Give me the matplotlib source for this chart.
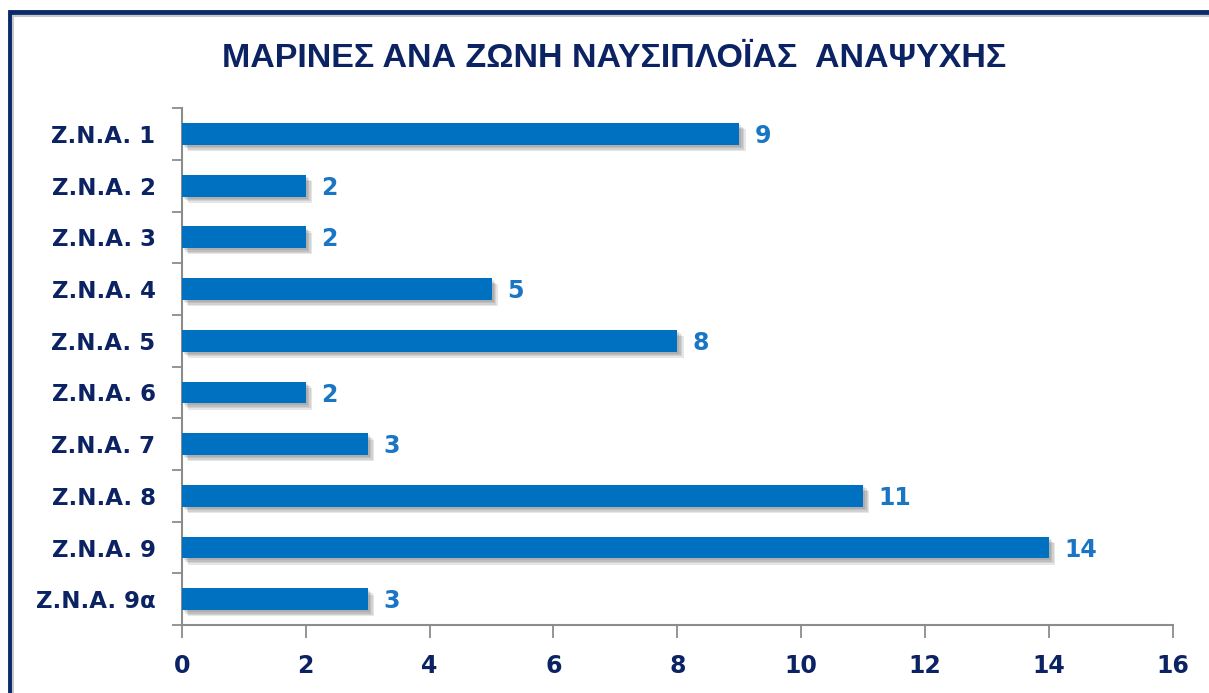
import matplotlib.pyplot as plt
import matplotlib.patheffects as pe
from matplotlib.patches import Rectangle

zones = ['Z.N.A. 1', 'Z.N.A. 2', 'Z.N.A. 3', 'Z.N.A. 4', 'Z.N.A. 5',
         'Z.N.A. 6', 'Z.N.A. 7', 'Z.N.A. 8', 'Z.N.A. 9', 'Z.N.A. 9α']
marinas = [9, 2, 2, 5, 8, 2, 3, 11, 14, 3]
x_ticks = [0, 2, 4, 6, 8, 10, 12, 14, 16]
title = 'ΜΑΡΙΝΕΣ ΑΝΑ ΖΩΝΗ ΝΑΥΣΙΠΛΟΪΑΣ  ΑΝΑΨΥΧΗΣ'

navy = '#0b2263'
bar_blue = '#0070c0'
label_blue = '#1a75c4'
grey = '#8c8c8c'

plt.rcParams['font.family'] = ['DejaVu Sans']

fig = plt.figure(figsize=(12.09, 6.93), dpi=100)
ax = fig.add_axes([0.1505, 0.098, 0.8195, 0.746])

# soft drop shadow under the bars
shadow = [pe.SimplePatchShadow(offset=(o, -o), shadow_rgbFace='#444444', alpha=0.13)
          for o in (1.5, 2.5, 3.5, 4.5)] + [pe.Normal()]

y = list(range(len(zones)))
ax.barh(y, marinas, height=0.42, color=bar_blue, zorder=3, path_effects=shadow)

for yi, v in zip(y, marinas):
    ax.annotate(str(v), (v, yi), xytext=(11, -1.5), textcoords='offset points',
                va='center', ha='left', fontsize=17, fontweight='bold', color=label_blue)

ax.set_ylim(len(zones) - 0.5, -0.5)
ax.set_xlim(0, 16)
ax.set_xticks(x_ticks)
ax.set_xticklabels([str(t) for t in x_ticks])
ax.set_yticks(y)
ax.set_yticklabels(zones)
ax.set_yticks([i - 0.5 for i in range(len(zones) + 1)], minor=True)

ax.tick_params(axis='y', which='major', length=0, pad=19, labelsize=16.5, labelcolor=navy)
ax.tick_params(axis='y', which='minor', length=7, width=1.3, color=grey, direction='out')
ax.tick_params(axis='x', which='major', length=9, width=1.3, color=grey, direction='out',
               pad=12, labelsize=17, labelcolor=navy)
for lab in ax.get_xticklabels() + ax.get_yticklabels():
    lab.set_fontweight('bold')

for s in ['top', 'right']:
    ax.spines[s].set_visible(False)
for s in ['left', 'bottom']:
    ax.spines[s].set_color(grey)
    ax.spines[s].set_linewidth(1.5)

fig.text(0.508, 0.915, title, ha='center', va='center', fontsize=24.5, fontweight='bold',
         color=navy, family=['Liberation Sans', 'DejaVu Sans'])

# frame around the chart
fig.patches.append(Rectangle((9.5 / 1209, -0.1), 1.2, 1 - 12 / 693 + 0.1, transform=fig.transFigure,
                             fill=False, edgecolor='#0a2a6b', linewidth=3.5))
fig.patches.append(Rectangle((13 / 1209, -0.1), 1.2, 1 - 16 / 693 + 0.1, transform=fig.transFigure,
                             fill=False, edgecolor='#c8c8c8', linewidth=1.5))

fig.savefig('out.png', dpi=100)
